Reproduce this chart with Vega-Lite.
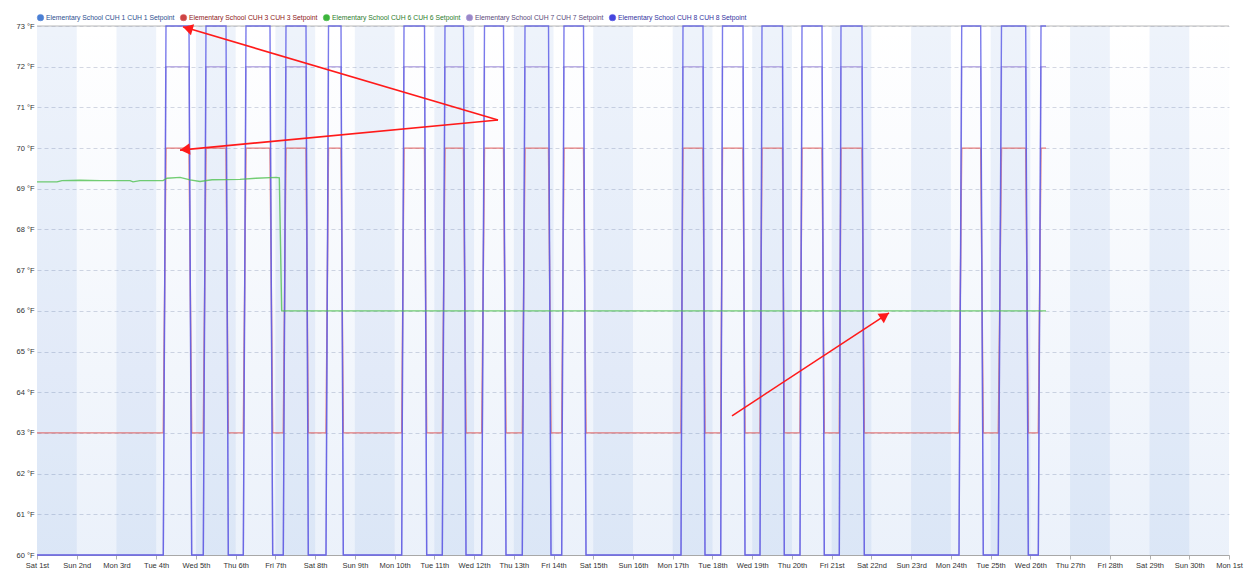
{
  "$schema": "https://vega.github.io/schema/vega-lite/v6.json",
  "width": 1192,
  "height": 529,
  "autosize": "none",
  "padding": {"left": 37, "top": 26, "right": 20, "bottom": 19},
  "background": "white",
  "config": {"view": {"stroke": null}, "font": "Liberation Sans"},
  "datasets": {
    "bands": [
      {"start": "2019-06-01T00:00", "end": "2019-06-02T00:00"},
      {"start": "2019-06-03T00:00", "end": "2019-06-04T00:00"},
      {"start": "2019-06-05T00:00", "end": "2019-06-06T00:00"},
      {"start": "2019-06-07T00:00", "end": "2019-06-08T00:00"},
      {"start": "2019-06-09T00:00", "end": "2019-06-10T00:00"},
      {"start": "2019-06-11T00:00", "end": "2019-06-12T00:00"},
      {"start": "2019-06-13T00:00", "end": "2019-06-14T00:00"},
      {"start": "2019-06-15T00:00", "end": "2019-06-16T00:00"},
      {"start": "2019-06-17T00:00", "end": "2019-06-18T00:00"},
      {"start": "2019-06-19T00:00", "end": "2019-06-20T00:00"},
      {"start": "2019-06-21T00:00", "end": "2019-06-22T00:00"},
      {"start": "2019-06-23T00:00", "end": "2019-06-24T00:00"},
      {"start": "2019-06-25T00:00", "end": "2019-06-26T00:00"},
      {"start": "2019-06-27T00:00", "end": "2019-06-28T00:00"},
      {"start": "2019-06-29T00:00", "end": "2019-06-30T00:00"}
    ],
    "series": [
      {"t": "2019-06-01T00:00", "CUH 3": 63, "CUH 7": 60, "CUH 8": 60},
      {"t": "2019-06-04T04:17", "CUH 3": 63, "CUH 7": 60, "CUH 8": 60},
      {"t": "2019-06-04T05:55", "CUH 3": 70, "CUH 7": 72, "CUH 8": 73},
      {"t": "2019-06-04T19:49", "CUH 3": 70, "CUH 7": 72, "CUH 8": 73},
      {"t": "2019-06-04T21:26", "CUH 3": 63, "CUH 7": 60, "CUH 8": 60},
      {"t": "2019-06-05T04:27", "CUH 3": 63, "CUH 7": 60, "CUH 8": 60},
      {"t": "2019-06-05T06:05", "CUH 3": 70, "CUH 7": 72, "CUH 8": 73},
      {"t": "2019-06-05T18:10", "CUH 3": 70, "CUH 7": 72, "CUH 8": 73},
      {"t": "2019-06-05T19:33", "CUH 3": 63, "CUH 7": 60, "CUH 8": 60},
      {"t": "2019-06-06T04:37", "CUH 3": 63, "CUH 7": 60, "CUH 8": 60},
      {"t": "2019-06-06T06:14", "CUH 3": 70, "CUH 7": 72, "CUH 8": 73},
      {"t": "2019-06-06T20:44", "CUH 3": 70, "CUH 7": 72, "CUH 8": 73},
      {"t": "2019-06-06T22:22", "CUH 3": 63, "CUH 7": 60, "CUH 8": 60},
      {"t": "2019-06-07T04:46", "CUH 3": 63, "CUH 7": 60, "CUH 8": 60},
      {"t": "2019-06-07T06:24", "CUH 3": 70, "CUH 7": 72, "CUH 8": 73},
      {"t": "2019-06-07T18:29", "CUH 3": 70, "CUH 7": 72, "CUH 8": 73},
      {"t": "2019-06-07T19:52", "CUH 3": 63, "CUH 7": 60, "CUH 8": 60},
      {"t": "2019-06-08T06:34", "CUH 3": 63, "CUH 7": 60, "CUH 8": 60},
      {"t": "2019-06-08T08:05", "CUH 3": 70, "CUH 7": 72, "CUH 8": 73},
      {"t": "2019-06-08T15:38", "CUH 3": 70, "CUH 7": 72, "CUH 8": 73},
      {"t": "2019-06-08T17:01", "CUH 3": 63, "CUH 7": 60, "CUH 8": 60},
      {"t": "2019-06-10T04:17", "CUH 3": 63, "CUH 7": 60, "CUH 8": 60},
      {"t": "2019-06-10T05:41", "CUH 3": 70, "CUH 7": 72, "CUH 8": 73},
      {"t": "2019-06-10T18:04", "CUH 3": 70, "CUH 7": 72, "CUH 8": 73},
      {"t": "2019-06-10T19:23", "CUH 3": 63, "CUH 7": 60, "CUH 8": 60},
      {"t": "2019-06-11T04:49", "CUH 3": 63, "CUH 7": 60, "CUH 8": 60},
      {"t": "2019-06-11T06:26", "CUH 3": 70, "CUH 7": 72, "CUH 8": 73},
      {"t": "2019-06-11T17:37", "CUH 3": 70, "CUH 7": 72, "CUH 8": 73},
      {"t": "2019-06-11T19:08", "CUH 3": 63, "CUH 7": 60, "CUH 8": 60},
      {"t": "2019-06-12T04:37", "CUH 3": 63, "CUH 7": 60, "CUH 8": 60},
      {"t": "2019-06-12T06:18", "CUH 3": 70, "CUH 7": 72, "CUH 8": 73},
      {"t": "2019-06-12T17:47", "CUH 3": 70, "CUH 7": 72, "CUH 8": 73},
      {"t": "2019-06-12T19:17", "CUH 3": 63, "CUH 7": 60, "CUH 8": 60},
      {"t": "2019-06-13T05:08", "CUH 3": 63, "CUH 7": 60, "CUH 8": 60},
      {"t": "2019-06-13T06:46", "CUH 3": 70, "CUH 7": 72, "CUH 8": 73},
      {"t": "2019-06-13T20:58", "CUH 3": 70, "CUH 7": 72, "CUH 8": 73},
      {"t": "2019-06-13T22:28", "CUH 3": 63, "CUH 7": 60, "CUH 8": 60},
      {"t": "2019-06-14T04:56", "CUH 3": 63, "CUH 7": 60, "CUH 8": 60},
      {"t": "2019-06-14T06:19", "CUH 3": 70, "CUH 7": 72, "CUH 8": 73},
      {"t": "2019-06-14T18:06", "CUH 3": 70, "CUH 7": 72, "CUH 8": 73},
      {"t": "2019-06-14T19:37", "CUH 3": 63, "CUH 7": 60, "CUH 8": 60},
      {"t": "2019-06-17T05:00", "CUH 3": 63, "CUH 7": 60, "CUH 8": 60},
      {"t": "2019-06-17T06:12", "CUH 3": 70, "CUH 7": 72, "CUH 8": 73},
      {"t": "2019-06-17T18:17", "CUH 3": 70, "CUH 7": 72, "CUH 8": 73},
      {"t": "2019-06-17T19:29", "CUH 3": 63, "CUH 7": 60, "CUH 8": 60},
      {"t": "2019-06-18T04:59", "CUH 3": 63, "CUH 7": 60, "CUH 8": 60},
      {"t": "2019-06-18T06:04", "CUH 3": 70, "CUH 7": 72, "CUH 8": 73},
      {"t": "2019-06-18T18:27", "CUH 3": 70, "CUH 7": 72, "CUH 8": 73},
      {"t": "2019-06-18T19:39", "CUH 3": 63, "CUH 7": 60, "CUH 8": 60},
      {"t": "2019-06-19T04:43", "CUH 3": 63, "CUH 7": 60, "CUH 8": 60},
      {"t": "2019-06-19T05:55", "CUH 3": 70, "CUH 7": 72, "CUH 8": 73},
      {"t": "2019-06-19T18:18", "CUH 3": 70, "CUH 7": 72, "CUH 8": 73},
      {"t": "2019-06-19T19:23", "CUH 3": 63, "CUH 7": 60, "CUH 8": 60},
      {"t": "2019-06-20T04:52", "CUH 3": 63, "CUH 7": 60, "CUH 8": 60},
      {"t": "2019-06-20T06:05", "CUH 3": 70, "CUH 7": 72, "CUH 8": 73},
      {"t": "2019-06-20T18:10", "CUH 3": 70, "CUH 7": 72, "CUH 8": 73},
      {"t": "2019-06-20T19:33", "CUH 3": 63, "CUH 7": 60, "CUH 8": 60},
      {"t": "2019-06-21T04:37", "CUH 3": 63, "CUH 7": 60, "CUH 8": 60},
      {"t": "2019-06-21T05:38", "CUH 3": 70, "CUH 7": 72, "CUH 8": 73},
      {"t": "2019-06-21T18:19", "CUH 3": 70, "CUH 7": 72, "CUH 8": 73},
      {"t": "2019-06-21T19:43", "CUH 3": 63, "CUH 7": 60, "CUH 8": 60},
      {"t": "2019-06-24T04:55", "CUH 3": 63, "CUH 7": 60, "CUH 8": 60},
      {"t": "2019-06-24T06:33", "CUH 3": 70, "CUH 7": 72, "CUH 8": 73},
      {"t": "2019-06-24T18:01", "CUH 3": 70, "CUH 7": 72, "CUH 8": 73},
      {"t": "2019-06-24T19:35", "CUH 3": 63, "CUH 7": 60, "CUH 8": 60},
      {"t": "2019-06-25T04:39", "CUH 3": 63, "CUH 7": 60, "CUH 8": 60},
      {"t": "2019-06-25T06:35", "CUH 3": 70, "CUH 7": 72, "CUH 8": 73},
      {"t": "2019-06-25T21:12", "CUH 3": 70, "CUH 7": 72, "CUH 8": 73},
      {"t": "2019-06-25T22:47", "CUH 3": 63, "CUH 7": 60, "CUH 8": 60},
      {"t": "2019-06-26T04:49", "CUH 3": 63, "CUH 7": 60, "CUH 8": 60},
      {"t": "2019-06-26T06:27", "CUH 3": 70, "CUH 7": 72, "CUH 8": 73},
      {"t": "2019-06-26T09:28", "CUH 3": 70, "CUH 7": 72, "CUH 8": 73},
      {"t": "2019-06-01T00:00", "CUH 6": 69.17},
      {"t": "2019-06-01T12:06", "CUH 6": 69.17},
      {"t": "2019-06-01T15:06", "CUH 6": 69.2},
      {"t": "2019-06-02T02:00", "CUH 6": 69.21},
      {"t": "2019-06-02T14:00", "CUH 6": 69.2},
      {"t": "2019-06-03T08:12", "CUH 6": 69.2},
      {"t": "2019-06-03T10:00", "CUH 6": 69.17},
      {"t": "2019-06-03T14:12", "CUH 6": 69.2},
      {"t": "2019-06-04T04:06", "CUH 6": 69.2},
      {"t": "2019-06-04T06:30", "CUH 6": 69.26},
      {"t": "2019-06-04T14:24", "CUH 6": 69.28},
      {"t": "2019-06-04T20:24", "CUH 6": 69.22},
      {"t": "2019-06-05T02:30", "CUH 6": 69.18},
      {"t": "2019-06-05T09:42", "CUH 6": 69.22},
      {"t": "2019-06-06T02:36", "CUH 6": 69.23},
      {"t": "2019-06-06T12:18", "CUH 6": 69.26},
      {"t": "2019-06-07T00:24", "CUH 6": 69.28},
      {"t": "2019-06-07T02:22", "CUH 6": 69.27},
      {"t": "2019-06-07T03:48", "CUH 6": 66},
      {"t": "2019-06-26T09:28", "CUH 6": 66}
    ],
    "arrows": [
      {"a": 1, "t": "2019-06-12T14:28", "v": 70.69},
      {"a": 1, "t": "2019-06-04T16:11", "v": 72.98},
      {"a": 2, "t": "2019-06-12T14:28", "v": 70.69},
      {"a": 2, "t": "2019-06-04T14:23", "v": 69.95},
      {"a": 3, "t": "2019-06-18T11:48", "v": 63.42},
      {"a": 3, "t": "2019-06-22T10:38", "v": 65.95}
    ],
    "heads": [
      {"a": 1, "t": "2019-06-04T19:05", "v": 72.94, "angle": 286.4},
      {"a": 2, "t": "2019-06-04T17:24", "v": 69.965, "angle": 264.6},
      {"a": 3, "t": "2019-06-22T08:06", "v": 65.88, "angle": 56.7}
    ]
  },
  "layer": [
    {
      "data": {"values": [{"start": "2019-06-01T00:00", "end": "2019-07-01T00:00"}]},
      "mark": {"type": "rect", "fill": {"gradient": "linear", "x1": 0, "y1": 0, "x2": 0, "y2": 1, "stops": [{"offset": 0, "color": "rgba(60,120,210,0)"}, {"offset": 1, "color": "rgba(60,120,210,0.1)"}]}},
      "encoding": {
        "x": {"field": "start", "type": "temporal", "title": null},
        "x2": {"field": "end"},
        "y": {"datum": 73, "type": "quantitative"},
        "y2": {"datum": 60}
      }
    },
    {
      "data": {"name": "bands"},
      "mark": {"type": "rect", "color": "#3c78d2", "opacity": 0.085},
      "encoding": {
        "x": {"field": "start", "type": "temporal", "title": null},
        "x2": {"field": "end"},
        "y": {"datum": 73, "type": "quantitative"},
        "y2": {"datum": 60}
      }
    },
    {
      "data": {"values": [{}]},
      "mark": {"type": "rule", "color": "#b8b8b8", "strokeWidth": 1},
      "encoding": {"y": {"datum": 73, "type": "quantitative"}}
    },
    {
      "data": {"name": "series"},
      "transform": [
        {"fold": ["CUH 3", "CUH 6", "CUH 7", "CUH 8"], "as": ["series", "value"]},
        {"filter": "isValid(datum.value)"}
      ],
      "mark": {"type": "line", "strokeWidth": 1.4, "strokeOpacity": 0.78, "invalid": "filter"},
      "encoding": {
        "x": {
          "field": "t", "type": "temporal", "title": null,
          "scale": {"domain": [{"year": 2019, "month": 6, "date": 1}, {"year": 2019, "month": 7, "date": 1}]},
          "axis": {
            "grid": false,
            "tickCount": {"interval": "day", "step": 1},
            "labelExpr": "timeFormat(datum.value, '%a') + ' ' + date(datum.value) + ((date(datum.value) % 10 == 1 && date(datum.value) != 11) ? 'st' : (date(datum.value) % 10 == 2 && date(datum.value) != 12) ? 'nd' : (date(datum.value) % 10 == 3 && date(datum.value) != 13) ? 'rd' : 'th')",
            "labelFontSize": 7.5,
            "labelColor": "#333333",
            "labelFlush": false,
            "labelOverlap": false,
            "domainColor": "#a8a8a8",
            "tickColor": "#b0b0b0",
            "tickSize": 4,
            "labelPadding": 2
          }
        },
        "y": {
          "field": "value", "type": "quantitative", "title": null,
          "scale": {"domain": [60, 73], "nice": false, "zero": false},
          "axis": {
            "values": [60, 61, 62, 63, 64, 65, 66, 67, 68, 69, 70, 71, 72, 73],
            "labelExpr": "datum.value + ' °F'",
            "domain": false,
            "ticks": false,
            "grid": true,
            "gridDash": [4, 3],
            "gridColor": "#d4d8e2",
            "labelFontSize": 7.5,
            "labelColor": "#333333",
            "labelPadding": 3
          }
        },
        "color": {
          "field": "series", "type": "nominal",
          "scale": {"domain": ["CUH 1", "CUH 3", "CUH 6", "CUH 7", "CUH 8"], "range": ["#4a7fd4", "#e05a5a", "#4cc04c", "#a898dc", "#5555e6"]},
          "legend": {
            "orient": "none",
            "legendX": 0,
            "legendY": -12,
            "direction": "horizontal",
            "title": null,
            "symbolType": "circle",
            "symbolSize": 42,
            "symbolStrokeWidth": 0.5,
            "symbolOpacity": 1,
            "symbolFillColor": {"expr": "datum.value === 'CUH 1' ? '#4a7fd4' : datum.value === 'CUH 3' ? '#cc4444' : datum.value === 'CUH 6' ? '#3cb43c' : datum.value === 'CUH 7' ? '#9a88c8' : '#4444dd'"},
            "labelColor": {"expr": "datum.value === 'CUH 1' ? '#2e4f8f' : datum.value === 'CUH 3' ? '#8e2020' : datum.value === 'CUH 6' ? '#2d7d2d' : datum.value === 'CUH 7' ? '#5a4a7a' : '#3333a0'"},
            "labelFontSize": 6.8,
            "labelOffset": 2,
            "columnPadding": 4,
            "labelLimit": 0,
            "labelExpr": "'Elementary School ' + datum.label + ' ' + datum.label + ' Setpoint'"
          }
        }
      }
    },
    {
      "data": {"name": "arrows"},
      "mark": {"type": "line", "color": "#ff1a1a", "strokeWidth": 1.6},
      "encoding": {
        "x": {"field": "t", "type": "temporal", "title": null},
        "y": {"field": "v", "type": "quantitative", "title": null},
        "detail": {"field": "a"}
      }
    },
    {
      "data": {"name": "heads"},
      "mark": {"type": "point", "shape": "triangle-up", "filled": true, "color": "#ff1a1a", "size": 130, "opacity": 1},
      "encoding": {
        "x": {"field": "t", "type": "temporal", "title": null},
        "y": {"field": "v", "type": "quantitative", "title": null},
        "angle": {"field": "angle", "type": "quantitative", "scale": null}
      }
    }
  ]
}
